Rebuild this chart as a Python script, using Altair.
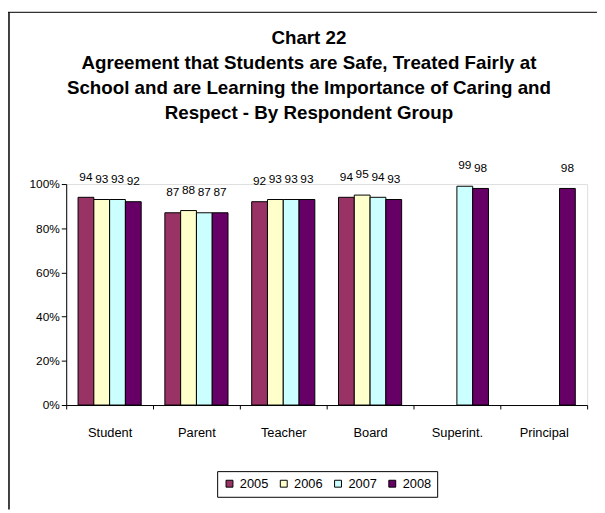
import altair as alt
import pandas as pd

groups = ["Student", "Parent", "Teacher", "Board", "Superint.", "Principal"]
years = ["2005", "2006", "2007", "2008"]
v2005 = [94, 87, 92, 94, None, None]
v2006 = [93, 88, 93, 95, None, None]
v2007 = [93, 87, 93, 94, 99, None]
v2008 = [92, 87, 93, 93, 98, 98]
colors = ["#993366", "#FFFFCC", "#CCFFFF", "#660066"]
y_ticks = [0, 20, 40, 60, 80, 100]
title_lines = [
    "Chart 22",
    "Agreement that Students are Safe, Treated Fairly at",
    "School and are Learning the Importance of Caring and",
    "Respect - By Respondent Group",
]

rows = []
for yr, vals in zip(years, [v2005, v2006, v2007, v2008]):
    for g, v in zip(groups, vals):
        if v is not None:
            rows.append({"group": g, "year": yr, "value": v})
df = pd.DataFrame(rows)

FONT = "Liberation Sans"

base = alt.Chart(df).encode(
    x=alt.X(
        "group:N",
        sort=groups,
        scale=alt.Scale(domain=groups, paddingInner=0, paddingOuter=0),
        axis=alt.Axis(
            title=None, labelAngle=0, tickBand="extent", tickSize=4,
            labelPadding=18, labelFontSize=13, labelFont=FONT,
            labelColor="black", domainColor="black", tickColor="black",
        ),
    ),
    xOffset=alt.XOffset(
        "year:N", sort=years,
        scale=alt.Scale(domain=years, paddingInner=0, paddingOuter=0.75),
    ),
    y=alt.Y(
        "value:Q",
        scale=alt.Scale(domain=[0, 100]),
        axis=alt.Axis(
            title=None, values=y_ticks, labelExpr="datum.value + '%'",
            grid=False, tickSize=5, labelPadding=2, labelFontSize=12,
            labelFont=FONT, labelColor="black", domainColor="black",
            tickColor="black",
        ),
    ),
)

bars = base.mark_bar(stroke="black", strokeWidth=1).encode(
    color=alt.Color(
        "year:N",
        scale=alt.Scale(domain=years, range=colors),
        legend=alt.Legend(
            title=None, orient="none", direction="horizontal",
            legendX=153, legendY=291, symbolType="square", symbolSize=49,
            symbolStrokeColor="black", symbolStrokeWidth=1,
            labelFontSize=13, labelFont=FONT, labelColor="black",
            labelOffset=4, columnPadding=9, padding=6,
            strokeColor="black", fillColor="white",
        ),
    )
)

labels = base.mark_text(
    dy=-17, baseline="alphabetic", fontSize=12, font=FONT, color="black"
).encode(text="value:Q")

frame_df = pd.DataFrame({"k": [0]})
top_line = alt.Chart(frame_df).mark_rule(color="#333333", strokeWidth=1.5).encode(
    x=alt.value(-59), x2=alt.value(540), y=alt.value(-174)
)
left_line = alt.Chart(frame_df).mark_rule(color="black", strokeWidth=1.5).encode(
    x=alt.value(-58), y=alt.value(-174), y2=alt.value(330)
)

chart = alt.layer(bars, labels, top_line, left_line).properties(
    width=528,
    height=224,
    autosize=alt.AutoSizeParams(type="none"),
    padding={"left": 59, "top": 175, "right": 10, "bottom": 106},
    title=alt.TitleParams(
        text=title_lines, fontSize=19, fontWeight="bold", font=FONT,
        color="black", lineHeight=25.5, anchor="middle", dx=-18, offset=-113,
    ),
).configure_view(stroke=None).configure(background="white")

chart.save("out.html", embed_options={"renderer": "svg", "actions": False})
